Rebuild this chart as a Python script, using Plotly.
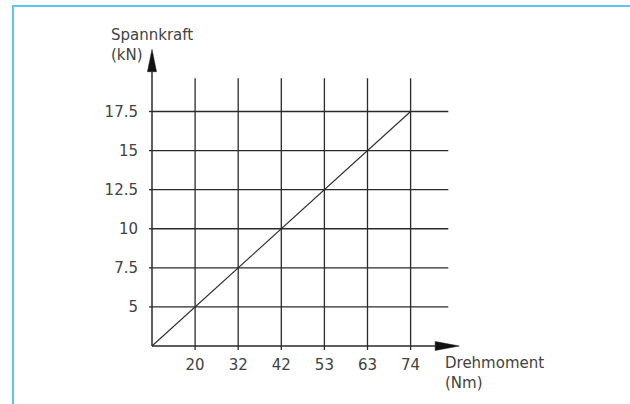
import plotly.graph_objects as go

# Data
torque_labels = ["20", "32", "42", "53", "63", "74"]          # Drehmoment (Nm)
force_labels = ["5", "7.5", "10", "12.5", "15", "17.5"]         # Spannkraft (kN)
torque_values = [0, 20, 32, 42, 53, 63, 74]
force_values = [0, 5, 7.5, 10, 12.5, 15, 17.5]

# ordinal positions (the diagram is drawn on an evenly spaced grid)
xpos = list(range(len(torque_values)))
ypos = list(range(len(force_values)))

INK = "#2a2a2a"
TXT = "#424242"
FONT = "DejaVu Sans"
FRAME = "#5cc6ee"

# layout geometry (pixels)
W, H = 630, 404
ML, MR, MT, MB = 140, 160, 40, 50
X0PX, XSTEP = 152, 43.1      # pixel of origin / step per grid cell
Y0PX, YSTEP = 346, 39.08

xr = [(ML - X0PX) / XSTEP, (W - MR - X0PX) / XSTEP]
yr = [(Y0PX - (H - MB)) / YSTEP, (Y0PX - MT) / YSTEP]
PW, PH = W - ML - MR, H - MT - MB


def paper_x(px):
    return (px - ML) / PW


def paper_y(py):
    return (H - MB - py) / PH


X_GRID_END = 6.875
Y_GRID_END = 6.85
X_ARROW_BASE, X_ARROW_TIP, X_ARROW_HALF = 6.57, 7.13, 0.115
Y_ARROW_BASE, Y_ARROW_TIP, Y_ARROW_HALF = 7.02, 7.59, 0.105

fig = go.Figure()

# vertical grid lines
gx, gy = [], []
for p in xpos[1:]:
    gx += [p, p, None]
    gy += [0, Y_GRID_END, None]
fig.add_trace(go.Scatter(x=gx, y=gy, mode="lines", line=dict(color=INK, width=1.3),
                         hoverinfo="skip", showlegend=False))
# horizontal grid lines
hx, hy = [], []
for p in ypos[1:]:
    hx += [0, X_GRID_END, None]
    hy += [p, p, None]
fig.add_trace(go.Scatter(x=hx, y=hy, mode="lines", line=dict(color=INK, width=1.3),
                         hoverinfo="skip", showlegend=False))

# data line (torque -> clamping force)
fig.add_trace(go.Scatter(x=xpos, y=ypos, mode="lines", line=dict(color=INK, width=1.1),
                         customdata=list(zip(torque_values, force_values)),
                         hovertemplate="%{customdata[0]} Nm: %{customdata[1]} kN<extra></extra>",
                         showlegend=False))

# axes with arrows
fig.add_shape(type="line", x0=0, y0=0, x1=X_ARROW_BASE, y1=0, line=dict(color=INK, width=1.5))
fig.add_shape(type="line", x0=0, y0=0, x1=0, y1=Y_ARROW_BASE, line=dict(color=INK, width=1.5))
fig.add_shape(type="path",
              path=f"M {X_ARROW_BASE},{-X_ARROW_HALF} L {X_ARROW_TIP},0 L {X_ARROW_BASE},{X_ARROW_HALF} Z",
              fillcolor="#111", line=dict(color="#111", width=0.5))
fig.add_shape(type="path",
              path=f"M {-Y_ARROW_HALF},{Y_ARROW_BASE} L 0,{Y_ARROW_TIP} L {Y_ARROW_HALF},{Y_ARROW_BASE} Z",
              fillcolor="#111", line=dict(color="#111", width=0.5))

# light-blue frame (top and left)
fig.add_shape(type="line", xref="paper", yref="paper",
              x0=paper_x(12), x1=paper_x(640), y0=paper_y(6), y1=paper_y(6),
              line=dict(color=FRAME, width=2))
fig.add_shape(type="line", xref="paper", yref="paper",
              x0=paper_x(13), x1=paper_x(13), y0=paper_y(5), y1=paper_y(410),
              line=dict(color=FRAME, width=2))

# axis titles
fig.add_annotation(xref="paper", yref="paper", x=paper_x(109), y=paper_y(24),
                   text="Spannkraft<br>(kN)", showarrow=False, xanchor="left", yanchor="top",
                   align="left", font=dict(family=FONT, size=15, color=TXT))
fig.add_annotation(xref="paper", yref="paper", x=paper_x(443), y=paper_y(352),
                   text="Drehmoment<br>(Nm)", showarrow=False, xanchor="left", yanchor="top",
                   align="left", font=dict(family=FONT, size=15, color=TXT))

fig.update_layout(
    width=W, height=H,
    margin=dict(l=ML, r=MR, t=MT, b=MB, autoexpand=False),
    paper_bgcolor="white", plot_bgcolor="white",
    font=dict(family=FONT, size=15, color=TXT),
    xaxis=dict(range=xr, tickvals=xpos[1:], ticktext=torque_labels,
               showgrid=False, zeroline=False, showline=False, automargin=False,
               ticks="", ticklabelstandoff=0, fixedrange=True),
    yaxis=dict(range=yr, tickvals=ypos[1:], ticktext=force_labels,
               showgrid=False, zeroline=False, showline=False, automargin=False,
               ticks="", ticklabelstandoff=1, fixedrange=True),
)

# small tick stubs: vertical lines extend below the x axis, horizontal lines left of the y axis
tx, ty = [], []
for p in xpos[1:]:
    tx += [p, p, None]
    ty += [0, -4 / YSTEP, None]
fig.add_trace(go.Scatter(x=tx, y=ty, mode="lines", line=dict(color=INK, width=1.3),
                         hoverinfo="skip", showlegend=False))
sx, sy = [], []
for p in ypos[1:]:
    sx += [0, -3 / XSTEP, None]
    sy += [p, p, None]
fig.add_trace(go.Scatter(x=sx, y=sy, mode="lines", line=dict(color=INK, width=1.3),
                         hoverinfo="skip", showlegend=False))

fig.write_html("out.html", post_script="document.body.style.margin='0';",
               config={"displayModeBar": False})
